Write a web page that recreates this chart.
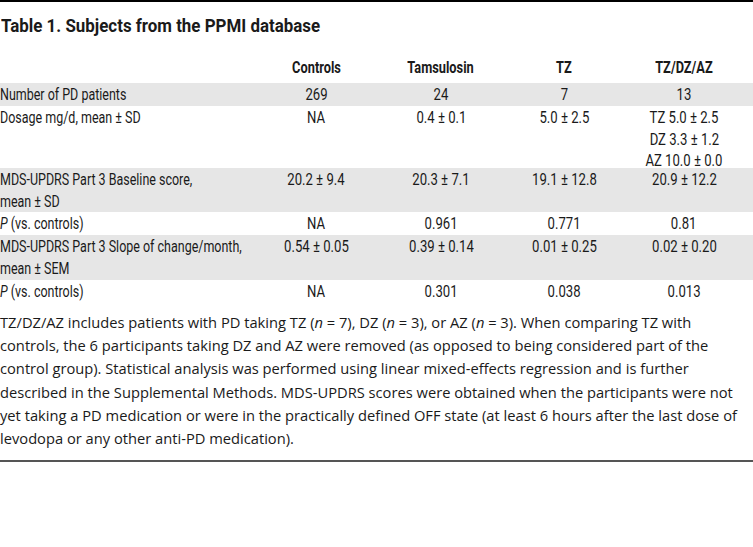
<!DOCTYPE html>
<html>
<head>
<meta charset="utf-8">
<script src="https://cdn.jsdelivr.net/npm/chart.js@4"></script>
<style>
  html, body { margin: 0; padding: 0; background: #fff; width: 753px; height: 547px; overflow: hidden; }
  body { position: relative; color: #1a1a1a; }
  #topline { position: absolute; left: 0; top: 0; width: 753px; height: 2px; background: #000; }
  #title { position: absolute; left: 1px; top: 14px; font: bold 19px "Roboto", sans-serif; white-space: nowrap; transform: scaleX(0.89); transform-origin: left center; }
  table { position: absolute; left: 0; top: 56px; border-collapse: collapse; table-layout: fixed; width: 753px;
          font: 16px "Roboto", sans-serif; }
  td, th { padding: 0; vertical-align: top; white-space: nowrap; overflow: visible; }
  td > div, th > div { padding-top: 1px; box-sizing: border-box; line-height: 21.5px; overflow: visible; }
  th { font-weight: bold; text-align: center; }
  td.lab { text-align: left; }
  td.val { text-align: center; }
  span.sq { display: inline-block; transform: scaleX(0.82); }
  td.lab span.sq { transform: scaleX(0.78); transform-origin: left top; }
  th span.sq { transform: scaleX(0.80); }
  td.val span.sq, th span.sq { transform-origin: center top; }
  tr.grey td { background: #e6e6e6; }
  #note { position: absolute; left: 0; top: 311px; width: 753px; font: 14.7px "Open Sans", sans-serif; line-height: 23.2px; white-space: nowrap; color: #1a1a1a; }
  #bottomline { position: absolute; left: 0; top: 460px; width: 753px; height: 2px; background: #555; }
</style>
</head>
<body>
<div id="topline"></div>
<div id="title">Table 1. Subjects from the PPMI database</div>
<table id="tbl">
  <colgroup><col style="width:250px"><col style="width:132px"><col style="width:118px"><col style="width:128px"><col style="width:112px"><col style="width:13px"></colgroup>
  <thead></thead>
  <tbody></tbody>
</table>
<div id="note"></div>
<div id="bottomline"></div>
<script>
const columns = ["Controls", "Tamsulosin", "TZ", "TZ/DZ/AZ"];
const rowLabels = [
  "Number of PD patients",
  "Dosage mg/d, mean \u00b1 SD",
  "MDS-UPDRS Part 3 Baseline score,\nmean \u00b1 SD",
  "<i>P</i> (vs. controls)",
  "MDS-UPDRS Part 3 Slope of change/month,\nmean \u00b1 SEM",
  "<i>P</i> (vs. controls)"
];
const controls   = ["269", "NA", "20.2 \u00b1 9.4", "NA", "0.54 \u00b1 0.05", "NA"];
const tamsulosin = ["24", "0.4 \u00b1 0.1", "20.3 \u00b1 7.1", "0.961", "0.39 \u00b1 0.14", "0.301"];
const tz         = ["7", "5.0 \u00b1 2.5", "19.1 \u00b1 12.8", "0.771", "0.01 \u00b1 0.25", "0.038"];
const tzdzaz     = ["13", "TZ 5.0 \u00b1 2.5\nDZ 3.3 \u00b1 1.2\nAZ 10.0 \u00b1 0.0", "20.9 \u00b1 12.2", "0.81", "0.02 \u00b1 0.20", "0.013"];
const rowHeights = [23, 62, 44, 23, 45, 23];
const greyRows   = [true, false, true, false, true, false];
const noteLines = [
  "TZ/DZ/AZ includes patients with PD taking TZ (<i>n</i> = 7), DZ (<i>n</i> = 3), or AZ (<i>n</i> = 3). When comparing TZ with",
  "controls, the 6 participants taking DZ and AZ were removed (as opposed to being considered part of the",
  "control group). Statistical analysis was performed using linear mixed-effects regression and is further",
  "described in the Supplemental Methods. MDS-UPDRS scores were obtained when the participants were not",
  "yet taking a PD medication or were in the practically defined OFF state (at least 6 hours after the last dose of",
  "levodopa or any other anti-PD medication)."
];

function cellText(t) {
  return t.split('\n').map(l => '<span class="sq">' + l + '</span>').join('<br>');
}
function box(inner, h) {
  return '<div style="height:' + h + 'px">' + inner + '</div>';
}

const thead = document.querySelector('#tbl thead');
const htr = document.createElement('tr');
htr.innerHTML = '<th>' + box('', 27) + '</th>' + columns.map(c => '<th>' + box(cellText(c), 27) + '</th>').join('') + '<th></th>';
thead.appendChild(htr);

const tbody = document.querySelector('#tbl tbody');
const series = [controls, tamsulosin, tz, tzdzaz];
rowLabels.forEach((lab, i) => {
  const tr = document.createElement('tr');
  if (greyRows[i]) tr.className = 'grey';
  const h = rowHeights[i];
  let html = '<td class="lab">' + box(cellText(lab), h) + '</td>';
  series.forEach(s => { html += '<td class="val">' + box(cellText(s[i]), h) + '</td>'; });
  html += '<td></td>';
  tr.innerHTML = html;
  tbody.appendChild(tr);
});

document.getElementById('note').innerHTML = noteLines.join('<br>');
</script>
</body>
</html>
